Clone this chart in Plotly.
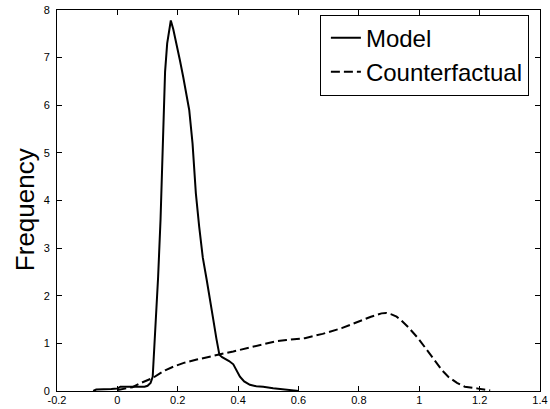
import plotly.graph_objects as go

# Model (solid) density
model_x = [-0.08, -0.07, -0.02, 0.0, 0.01, 0.05, 0.09, 0.10, 0.11, 0.117, 0.125,
           0.135, 0.143, 0.148, 0.153, 0.158, 0.165, 0.172, 0.177, 0.185, 0.196,
           0.207, 0.218, 0.228, 0.238, 0.249, 0.260, 0.271, 0.283, 0.296, 0.307,
           0.318, 0.328, 0.338, 0.347, 0.356, 0.37, 0.384, 0.395, 0.406, 0.42,
           0.439, 0.46, 0.483, 0.516, 0.55, 0.60]
model_y = [0.0, 0.03, 0.04, 0.05, 0.09, 0.09, 0.09, 0.11, 0.17, 0.30, 1.2,
           2.4, 3.6, 4.8, 6.0, 6.7, 7.3, 7.65, 7.78, 7.6, 7.3,
           6.95, 6.6, 6.25, 5.9, 5.2, 4.15, 3.45, 2.8, 2.33, 1.95,
           1.49, 1.1, 0.76, 0.71, 0.68, 0.63, 0.56, 0.43, 0.30, 0.2,
           0.13, 0.1, 0.09, 0.06, 0.03, 0.0]

# Counterfactual (dashed) density
cf_x = [0.0, 0.03, 0.05, 0.075, 0.1, 0.119, 0.141, 0.16, 0.185, 0.22, 0.263,
        0.3, 0.34, 0.384, 0.43, 0.48, 0.522, 0.56, 0.621, 0.68, 0.743, 0.78,
        0.809, 0.84, 0.875, 0.89, 0.908, 0.925, 0.941, 0.965, 0.996, 1.025,
        1.052, 1.075, 1.096, 1.125, 1.151, 1.175, 1.195, 1.215, 1.235]
cf_y = [0.02, 0.05, 0.08, 0.16, 0.22, 0.28, 0.37, 0.44, 0.51, 0.59, 0.66,
        0.72, 0.77, 0.83, 0.9, 0.97, 1.04, 1.07, 1.11, 1.2, 1.32, 1.41,
        1.49, 1.56, 1.63, 1.64, 1.61, 1.56, 1.48, 1.33, 1.11, 0.86,
        0.62, 0.44, 0.30, 0.17, 0.09, 0.06, 0.05, 0.03, 0.01]

x_ticks = [-0.2, 0, 0.2, 0.4, 0.6, 0.8, 1.0, 1.2, 1.4]
x_tick_labels = ["-0.2", "0", "0.2", "0.4", "0.6", "0.8", "1", "1.2", "1.4"]
y_ticks = [0, 1, 2, 3, 4, 5, 6, 7, 8]
y_tick_labels = ["0", "1", "2", "3", "4", "5", "6", "7", "8"]

FONT = "Liberation Sans, Arial, Helvetica, sans-serif"

fig = go.Figure()
fig.add_trace(go.Scatter(x=model_x, y=model_y, mode="lines", name="Model",
                         line=dict(color="black", width=2)))
fig.add_trace(go.Scatter(x=cf_x, y=cf_y, mode="lines", name="Counterfactual",
                         line=dict(color="black", width=2, dash="9px,4px")))

axis_common = dict(showline=True, linecolor="black", linewidth=1, mirror="ticks",
                   ticks="inside", ticklen=5, tickcolor="black", tickwidth=1,
                   showgrid=False, zeroline=False, automargin=False,
                   ticklabeloverflow="allow",
                   tickfont=dict(family=FONT, size=11, color="black"))

fig.update_xaxes(range=[-0.2, 1.4], tickvals=x_ticks, ticktext=x_tick_labels,
                 ticklabelstandoff=-1, **axis_common)
fig.update_yaxes(range=[0, 8], tickvals=y_ticks, ticktext=y_tick_labels,
                 ticklabelstandoff=4, **axis_common)

fig.add_annotation(text="Frequency", textangle=-90, xref="paper", yref="paper",
                   x=-0.066, y=0.475, xanchor="center", yanchor="middle",
                   showarrow=False, font=dict(family=FONT, size=26, color="black"))

fig.update_layout(
    width=550, height=409,
    margin=dict(l=57, r=10, t=10, b=18, autoexpand=False),
    paper_bgcolor="white", plot_bgcolor="white",
    showlegend=True,
    legend=dict(x=0.977, xanchor="right", y=0.988, yanchor="top",
                bordercolor="black", borderwidth=1, bgcolor="white",
                font=dict(family=FONT, size=24, color="black"),
                tracegroupgap=0, itemwidth=30, indentation=5),
)

# remove the browser's default 8px body margin so the figure sits at (0, 0)
fig.write_html("out.html",
               config={"displayModeBar": False},
               post_script="document.body.style.margin='0';")
